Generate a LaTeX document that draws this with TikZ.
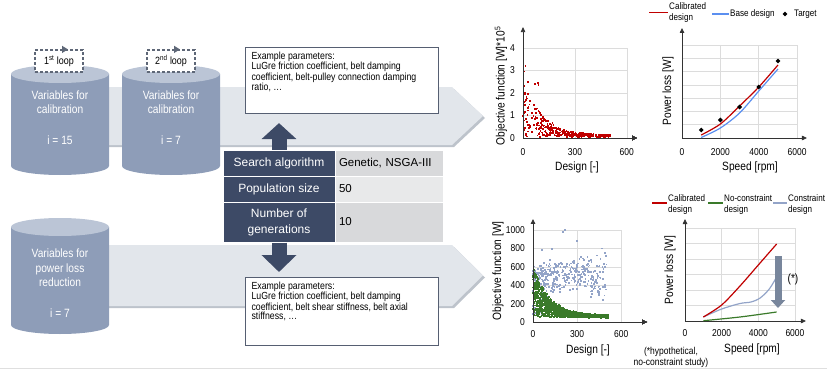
\documentclass[tikz,border=0pt]{standalone}
\usepackage{fontspec}
\setmainfont{Liberation Sans}
\newfontfamily\narrowfont{Liberation Sans}[FakeStretch=0.85]
\usetikzlibrary{arrows.meta,positioning,shapes.geometric}
\definecolor{navy}{HTML}{3D4A66}
\definecolor{tankbody}{HTML}{8E9DB8}
\definecolor{tanktop}{HTML}{BBC5D6}
\definecolor{bandfill}{HTML}{E2E6EB}
\definecolor{bandshade}{HTML}{BDC3CB}
\definecolor{cellgray}{HTML}{D8D9DB}
\definecolor{celllight}{HTML}{E8E9EA}
\definecolor{loopgray}{HTML}{5E6777}
\definecolor{boxgray}{HTML}{565F72}
\definecolor{calred}{HTML}{C00000}
\definecolor{baseblue}{HTML}{5B8FF0}
\definecolor{ncgreen}{HTML}{3A7A2A}
\definecolor{cgblue}{HTML}{93A4C8}
\definecolor{gridgray}{HTML}{DCDCDC}
\definecolor{dropgray}{HTML}{78869C}
\tikzset{
  pics/tank/.style args={#1/#2/#3}{% #1=x radius, #2=y radius, #3=height
    code = {
      \fill[tankbody] (-#1,0) -- (-#1,#3) arc[start angle=180, end angle=360, x radius=#1pt, y radius=#2pt] -- (#1,0) -- cycle;
      \fill[tanktop] (0,0) ellipse[x radius=#1pt, y radius=#2pt];
}}}
\tikzset{
  pics/band/.style args={#1/#2}{% #1=body length, #2=half height
    code = {
      \fill[bandshade] (2,2-#2) -- (#1+2,2-#2) -- (#1+33,2) -- (#1+2,#2+2) -- (2,#2+2) -- cycle;
      \fill[bandfill] (0,-#2) -- (#1,-#2) -- (#1+31,0) -- (#1,#2) -- (0,#2) -- cycle;
}}}
\tikzset{
  tanktext/.style={text=white, align=center, font=\narrowfont\fontsize{12}{14.5}\selectfont},
  loopbox/.style={draw=loopgray, fill=white, line width=1.2pt, dash pattern=on 3pt off 2pt, minimum width=48pt, minimum height=22pt, inner sep=1pt, font=\narrowfont\fontsize{10.5}{12}\selectfont},
  parambox/.style={draw=boxgray, fill=white, line width=1.1pt, inner xsep=6pt, inner ysep=4pt, anchor=north west, font=\narrowfont\fontsize{10.3}{8.9}\selectfont},
  hcell/.style={fill=navy, draw=white, line width=1pt, text=white, minimum width=112pt, align=center, font=\fontsize{12}{16}\selectfont},
  vcell/.style={fill=cellgray, draw=white, line width=1pt, minimum width=108pt, text width=100pt, align=left, font=\fontsize{11.5}{16}\selectfont},
  fatarrow/.style={navy, line width=15pt},
  gridline/.style={draw=gridgray, line width=0.6pt},
  axis/.style={draw=black!80, line width=0.8pt, -{Triangle[length=5pt,width=4.5pt]}},
  ticklab/.style={font=\narrowfont\fontsize{10}{12}\selectfont, inner sep=2pt},
  axtitle/.style={font=\narrowfont\fontsize{12}{14}\selectfont},
  legtext/.style={font=\narrowfont\fontsize{9.5}{11}\selectfont, align=left, anchor=west, inner sep=1pt},
  target/.style={diamond, fill=black, inner sep=0pt, minimum size=5pt},
  curve/.style={line width=1.2pt, smooth}
}
\newcommand{\pt}[3]{\fill[#1] (#2,#3) +(-0.85pt,-0.85pt) rectangle +(0.85pt,0.85pt);}

\begin{document}
\begin{tikzpicture}[x=1pt, y=-1pt]
  \useasboundingbox (0,0) rectangle (827,369);
  \draw[gridgray!80!black!40, line width=0.8pt] (0,368) -- (827,368);

  % flow bands and variable sets
  \pic (topband) at (60,116) {band={392/29}};
  \pic (lowband) at (60,275.5) {band={392/30.5}};
  \pic (tank1) at (60,74) {tank={49/9/92}};
  \pic (tank2) at (171,74) {tank={49/9/92}};
  \pic (tank3) at (60,227) {tank={49/9/98}};
  \node[tanktext] (var1) at (60,102) {Variables for\\calibration};
  \node[tanktext] (cnt1) at (60,140) {i = 15};
  \node[tanktext] (var2) at (171,102) {Variables for\\calibration};
  \node[tanktext] (cnt2) at (171,140) {i = 7};
  \node[tanktext] (var3) at (60,268) {Variables for\\power loss\\reduction};
  \node[tanktext] (cnt3) at (60,313) {i = 7};

  \node[loopbox] (loop1) at (59,61) {1\textsuperscript{st} loop};
  \node[loopbox] (loop2) at (171,61) {2\textsuperscript{nd} loop};
  \draw[loopgray, line width=1.2pt, -{Triangle[length=6pt,width=7pt]}] ([xshift=1pt]loop1.north) -- ([xshift=9pt]loop1.north);
  \draw[loopgray, line width=1.2pt, -{Triangle[length=6pt,width=7pt]}] ([xshift=1pt]loop2.north) -- ([xshift=9pt]loop2.north);

  % optimisation settings
  \node[hcell, minimum height=26pt] (algo) at (279,163) {Search algorithm};
  \node[vcell, minimum height=26pt] (algoval) at (389,163) {Genetic, NSGA-III};
  \node[hcell, minimum height=26pt] (popsize) at (279,189) {Population size};
  \node[vcell, minimum height=26pt, fill=celllight] (popval) at (389,189) {50};
  \node[hcell, minimum height=40pt] (ngen) at (279,222) {Number of\\generations};
  \node[vcell, minimum height=40pt] (ngenval) at (389,222) {10};

  \node[parambox] (ex1) at (245,47) {\parbox[t][58pt][t]{181pt}{Example parameters:\\LuGre friction coefficient, belt damping\\coefficient, belt-pulley connection damping\\ratio, \dots}};
  \node[parambox] (ex2) at (245,277) {\parbox[t][60pt][t]{181pt}{Example parameters:\\LuGre friction coefficient, belt damping\\coefficient, belt shear stiffness, belt axial\\stiffness, \dots}};

  \draw[fatarrow, -{Triangle[width=34pt,length=16pt]}, shorten >=9pt] (algo.north) -- (algo.north |- ex1.south);
  \draw[fatarrow, -{Triangle[width=34pt,length=17pt]}, shorten >=5pt] (ngen.south) -- (ngen.south |- ex2.north);

  % calibration: objective over designs
  \begin{scope}[shift={(523,138)}, x=0.173pt, y=22.5pt]
    \foreach \v in {1,...,4} \draw[gridline] (0,\v) -- (600,\v);
    \foreach \d in {300,600} \draw[gridline] (\d,0) -- (\d,4);
    \pgfmathsetseed{11}
    \foreach \i in {1,...,380}{
      \pgfmathsetmacro{\dd}{510*rnd}
      \pgfmathsetmacro{\vv}{0.03+0.1*rnd+2.6*rnd*exp(-\dd/110)}
      \pt{calred}{\dd}{\vv}
    }
    \foreach \dd/\vv in {8/2.95,15/3.2,5/1.6,70/2.4,85/2.45,30/2.5,90/2.35}
      \pt{calred}{\dd}{\vv}
    \draw[axis] (0,0) -- (659,0);
    \draw[axis] (0,0) -- (0,4.93);
    \foreach \v in {0,...,4} \node[ticklab, anchor=east, xshift=-6pt] (oy\v) at (0,\v) {\v};
    \foreach \d in {0,300,600} \node[ticklab, anchor=north, yshift=-8pt] (ox\d) at (\d,0) {\d};
  \end{scope}
  \node[axtitle, rotate=90] (oytitle) at (501,86) {Objective function [W]*10\textsuperscript{5}};
  \node[axtitle] (oxtitle) at (577,167) {Design [-]};

  % calibration: power loss over speed
  \begin{scope}[shift={(682,138)}, x=0.0192pt, y=1pt]
    \foreach \k in {1,...,7} \draw[gridline] (0,\k*13.3) -- (6000,\k*13.3);
    \foreach \s in {2000,4000,6000} \draw[gridline] (\s,0) -- (\s,93.1);
    \draw[axis] (0,0) -- (6510,0);
    \draw[axis] (0,0) -- (0,110);
    \draw[curve, baseblue] plot coordinates {(1000,0.5) (2000,10) (3000,25) (4000,47) (5000,69)};
    \draw[curve, calred] plot coordinates {(1000,3) (2000,14) (3000,32) (4000,51) (5000,73)};
    \foreach \s/\p [count=\n] in {1000/8,2000/18,3000/31,4000/51,5000/77}
      \node[target] (tgt\n) at (\s,\p) {};
    \foreach \s in {0,2000,4000,6000} \node[ticklab, anchor=north, yshift=-8pt] (sx\s) at (\s,0) {\s};
  \end{scope}
  \node[axtitle, rotate=90] (pytitle) at (668,91) {Power loss [W]};
  \node[axtitle] (pxtitle) at (750,167) {Speed [rpm]};
  \node[legtext] (legcal) at (668,12.5) {Calibrated\\design};
  \node[legtext] (legbase) at (729,14) {Base design};
  \node[target] (legtgt) at (785,14) {};
  \node[legtext] (legtarget) at (793,14) {Target};
  \draw[calred, line width=1.2pt] ([xshift=-19pt]legcal.west) -- (legcal.west);
  \draw[baseblue, line width=1.2pt] ([xshift=-17pt]legbase.west) -- (legbase.west);

  % power loss reduction: objective over designs
  \begin{scope}[shift={(533,322)}, x=0.147pt, y=0.092pt]
    \foreach \v in {200,400,...,1000} \draw[gridline] (0,\v) -- (600,\v);
    \foreach \d in {300,600} \draw[gridline] (\d,0) -- (\d,1000);
    \pgfmathsetseed{5}
    \foreach \i in {1,...,330}{
      \pgfmathsetmacro{\dd}{500*rnd}
      \pgfmathsetmacro{\vv}{500+(rnd+rnd-1)*(150+0.3*\dd)}
      \pt{cgblue}{\dd}{\vv}
    }
    \foreach \i in {1,...,70}{
      \pgfmathsetmacro{\dd}{100*rnd}
      \pgfmathsetmacro{\vv}{80+480*rnd}
      \pt{cgblue}{\dd}{\vv}
    }
    \foreach \dd/\vv in {205/980,220/1000,300/880,470/800,60/780,130/790}
      \pt{cgblue}{\dd}{\vv}
    \foreach \i in {1,...,250}{
      \pgfmathsetmacro{\dd}{510*rnd}
      \pgfmathsetmacro{\vv}{45+30*rnd+560*rnd*exp(-\dd/110)}
      \pt{ncgreen}{\dd}{\vv}
    }
    \draw[axis] (0,0) -- (776,0);
    \draw[axis] (0,0) -- (0,1120);
    \foreach \v in {0,200,...,1000} \node[ticklab, anchor=east, xshift=-6pt] (ry\v) at (0,\v) {\v};
    \foreach \d in {0,300,600} \node[ticklab, anchor=north, yshift=-6pt] (rx\d) at (\d,0) {\d};
  \end{scope}
  \node[axtitle, rotate=90] (rytitle) at (498,271) {Objective function [W]};
  \node[axtitle] (rxtitle) at (588,350) {Design [-]};

  % power loss reduction: power loss over speed
  \begin{scope}[shift={(685,321)}, x=0.01833pt, y=1pt]
    \foreach \k in {1,...,6} \draw[gridline] (0,\k*15.5) -- (6000,\k*15.5);
    \foreach \s in {2000,4000,6000} \draw[gridline] (\s,0) -- (\s,93);
    \draw[axis] (0,0) -- (6600,0);
    \draw[axis] (0,0) -- (0,102);
    \draw[curve, ncgreen] plot coordinates {(1000,0.3) (3000,4) (5000,9)};
    \draw[curve, cgblue] plot coordinates {(1000,4) (2000,12) (3000,17.5) (3600,19) (4100,23) (4600,32) (5000,44)};
    \draw[curve, calred] plot coordinates {(1000,4) (2000,16) (3000,35) (4000,56) (5000,77)};
    \foreach \s in {0,2000,4000,6000} \node[ticklab, anchor=north, yshift=-6pt] (qx\s) at (\s,0) {\s};
  \end{scope}
  \node[axtitle, rotate=90] (qytitle) at (670,270) {Power loss [W]};
  \node[axtitle] (qxtitle) at (752,349) {Speed [rpm]};
  \coordinate (drop1) at (778,256);
  \coordinate (drop2) at (778,308);
  \draw[dropgray, line width=7pt, -{Triangle[width=14pt,length=8pt]}] (drop1) -- (drop2);
  \node[axtitle] (star) at (793,279) {(*)};
  \node[legtext] (leg2cal) at (667,205) {Calibrated\\design};
  \node[legtext] (leg2nc) at (723,205) {No-constraint\\design};
  \node[legtext] (leg2c) at (787,205) {Constraint\\design};
  \draw[calred, line width=1.2pt] ([xshift=-15pt,yshift=2pt]leg2cal.west) -- ([yshift=2pt]leg2cal.west);
  \draw[ncgreen, line width=1.2pt] ([xshift=-15pt,yshift=2pt]leg2nc.west) -- ([yshift=2pt]leg2nc.west);
  \draw[cgblue, line width=1.2pt] ([xshift=-14pt,yshift=2pt]leg2c.west) -- ([yshift=2pt]leg2c.west);
  \node[legtext, anchor=center, align=center, font=\narrowfont\fontsize{10}{11}\selectfont] (note) at (671,357.5) {(*hypothetical,\\no-constraint study)};
\end{tikzpicture}
\end{document}
